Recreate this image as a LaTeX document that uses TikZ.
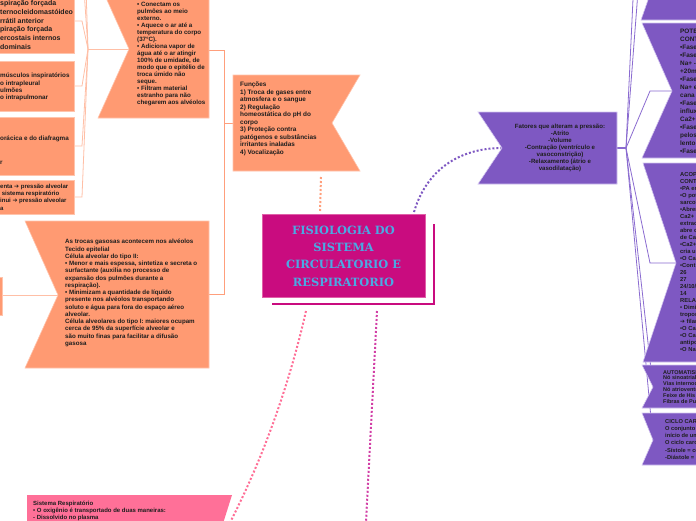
\documentclass[tikz,border=0pt]{standalone}
\usepackage{fontspec}
\setmainfont{Liberation Sans}
\newfontfamily\titlefont{DejaVu Serif}
\newfontfamily\symfont{DejaVu Sans}
\definecolor{orng}{HTML}{FF9A72}
\definecolor{obord}{HTML}{FFC4AC}
\definecolor{salm}{HTML}{FF9F7C}
\definecolor{salmlt}{HTML}{FFBFA6}
\definecolor{mag}{HTML}{C90C7F}
\definecolor{magbord}{HTML}{E060A8}
\definecolor{purp}{HTML}{7E58C2}
\definecolor{pbord}{HTML}{D2C4F0}
\definecolor{pline}{HTML}{8A6BD0}
\definecolor{pinkb}{HTML}{FF7098}
\definecolor{pinkd}{HTML}{FF6E96}
\definecolor{magd}{HTML}{D23FA6}
\definecolor{ttl}{HTML}{4AAAE4}
\definecolor{textc}{HTML}{1E1E1E}
\begin{document}
\begin{tikzpicture}[x=1pt,y=-1pt,
  txt/.style={inner sep=0pt, anchor=north west, align=left, text=textc, execute at begin node=\strut},
  ln/.style={inner sep=0pt, anchor=base west, text=textc},
  obox/.style={fill=orng, draw=obord, line width=0.6pt},
  pbox/.style={fill=purp, draw=pbord, line width=0.6pt},
  salline/.style={draw=salmlt, line width=0.8pt},
  elbline/.style={draw=salm, line width=1pt},
  purline/.style={draw=pline, line width=0.8pt},
  dotline/.style={line width=2pt, dash pattern=on 2pt off 2pt}
]
\useasboundingbox (0,0) rectangle (696,520);
\clip (0,0) rectangle (696,520);
\fill[white] (0,0) rectangle (696,520);

% ---------- coordinates ----------
\coordinate (J1) at (88,49);
\coordinate (topN) at (129,49);
\coordinate (b1R) at (74,21);  \coordinate (b1S) at (82,21);
\coordinate (b2R) at (74,86);  \coordinate (b2S) at (82,86);
\coordinate (b3R) at (74,146); \coordinate (b3S) at (82,146);
\coordinate (b4R) at (74,197); \coordinate (b4S) at (82,197);
\coordinate (up1) at (82,-40);
\coordinate (up2) at (82,-130);
\coordinate (topR) at (209,50);
\coordinate (funL) at (233,123);
\coordinate (ex) at (224,123);
\coordinate (lowR) at (209,294);
\coordinate (lowN) at (58,295);
\coordinate (slivR) at (2,295);
\coordinate (funB) at (321,177);
\coordinate (ttlT1) at (320,212);
\coordinate (ttlT2) at (414,212);
\coordinate (fatN) at (502,148);
\coordinate (fatR) at (617,148);
\coordinate (J2) at (626,148);
\coordinate (aN) at (662,-40);
\coordinate (up3) at (640,-150);
\coordinate (up4) at (645,-100);
\coordinate (bS) at (650,91);  \coordinate (bN) at (672,91);
\coordinate (cS) at (650,263); \coordinate (cN) at (676,263);
\coordinate (dN) at (653,387);
\coordinate (eN) at (653,440);
\coordinate (ttlB1) at (306,311);
\coordinate (ttlB2) at (377,311);
\coordinate (pinkN) at (214,552);
\coordinate (magEnd) at (364,560);

% ---------- connectors (behind) ----------
\draw[salline] (topN) -- (J1);
\foreach \s/\r in {b1S/b1R,b2S/b2R,b3S/b3R,b4S/b4R}{\draw[salline] (J1) -- (\s) -- (\r);}
\draw[salline] (J1) -- (up1);
\draw[salline] (J1) -- (up2);
\draw[elbline] (topR) -| (ex) -- (funL);
\draw[elbline] (lowR) -| (ex);
\draw[salline] (slivR) -- (lowN);
\draw[purline, line width=2pt] (fatR) -- (J2);
\draw[purline] (J2) -- (up3);
\draw[purline] (J2) -- (up4);
\draw[purline] (J2) -- (bS) -- (bN);
\draw[purline] (J2) -- (cS) -- (cN);
\draw[purline] (J2) -- (dN);
\draw[purline] (J2) -- (eN);

% ---------- left boxes ----------
\path[obox] (-60,-10) rectangle (74,53);
\path[obox] (-60,61) rectangle (74,111);
\path[obox] (-60,117) rectangle (74,175);
\path[obox] (-60,180) rectangle (74,214);
\node[txt, font=\fontsize{7}{8.9}\selectfont\bfseries] (t1) at (0,0)
  {spiração forçada\\ternocleidomastóideo\\rrátil anterior\\piração forçada\\ercostais internos\\dominais};
\node[txt, font=\fontsize{6.3}{7.3}\selectfont\bfseries] (t2) at (0,73.1)
  {músculos inspiratórios\\o intrapleural\\ulmões\\o intrapulmonar};
\node[ln, font=\fontsize{6.3}{7.3}\selectfont\bfseries] (t3a) at (0,140.2) {orácica e do diafragma};
\node[ln, font=\fontsize{6.3}{7.3}\selectfont\bfseries] (t3b) at (0,164.2) {r};
\node[txt, font=\fontsize{6}{7.2}\selectfont\bfseries] (t4) at (0,183.9)
  {enta {\symfont ➔} pressão alveolar\\\ sistema respiratório\\inui {\symfont ➔} pressão alveolar\\a};

% ---------- top orange box ----------
\path[obox] (98,-20) -- (209,-20) -- (209,118) -- (98,118) -- (topN) -- cycle;
\node[txt, font=\fontsize{6.2}{7.0}\selectfont\bfseries] (ttop) at (137,2.3)
  {• Conectam os\\pulmões ao meio\\externo.\\• Aquece o ar até a\\temperatura do corpo\\(37°C).\\• Adiciona vapor de\\água até o ar atingir\\100\% de umidade, de\\modo que o epitélio de\\troca úmido não\\seque.\\• Filtram material\\estranho para não\\chegarem aos alvéolos};

% ---------- Funções ----------
\path[obox] (233,75) -- (360,75) -- (332,123) -- (360,171) -- (233,171) -- cycle;
\node[txt, font=\fontsize{6.4}{7.5}\selectfont\bfseries] (tfun) at (240,82)
  {Funções\\1) Troca de gases entre\\atmosfera e o sangue\\2) Regulação\\homeostática do pH do\\corpo\\3) Proteção contra\\patógenos e substâncias\\irritantes inaladas\\4) Vocalização};

% ---------- lower orange box ----------
\path[obox] (-50,277) rectangle (2,315);
\path[obox] (25,221) -- (209,221) -- (209,368) -- (25,368) -- (lowN) -- cycle;
\node[txt, font=\fontsize{6.2}{7.25}\selectfont\bfseries] (tlow) at (65,239.1)
  {As trocas gasosas acontecem nos alvéolos\\Tecido epitelial\\Célula alveolar do tipo II:\\• Menor e mais espessa, sintetiza e secreta o\\surfactante (auxilia no processo de\\expansão dos pulmões durante a\\respiração).\\• Minimizam a quantidade de líquido\\presente nos alvéolos transportando\\soluto e água para fora do espaço aéreo\\alveolar.\\Célula alveolares do tipo I: maiores ocupam\\cerca de 95\% da superfície alveolar e\\são muito finas para facilitar a difusão\\gasosa};

% ---------- dotted links ----------
\draw[dotline, salm] (funB) -- (ttlT1);
\draw[dotline, purp] (ttlT2) .. controls (428,165) and (465,148) .. (fatN);
\draw[dotline, pinkd] (ttlB1) .. controls (288,390) and (258,475) .. (pinkN);
\draw[dotline, magd] (ttlB2) -- (magEnd);

% ---------- title ----------
\draw[mag, line width=2.5pt] (272,304) -- (434,304) -- (434,224);
\path[fill=mag, draw=magbord, line width=0.6pt] (262,214) rectangle (425,297);
\node[inner sep=0pt, align=center, text=ttl, font=\titlefont\bfseries\fontsize{11.4}{17.3}\selectfont] (title) at (343.5,256)
  {FISIOLOGIA DO\\SISTEMA\\CIRCULATORIO E\\RESPIRATORIO};

% ---------- Fatores ----------
\path[pbox] (478,112) -- (617,112) -- (617,184) -- (478,184) -- (fatN) -- cycle;
\node[inner sep=0pt, anchor=north, align=center, text=textc, execute at begin node=\strut, font=\fontsize{6.1}{7}\selectfont\bfseries] (tfat) at (560,124.3)
  {Fatores que alteram a pressão:\\-Atrito\\-Volume\\-Contração (ventrículo e\\vasoconstrição)\\-Relaxamento (átrio e\\vasodilatação)};

% ---------- right column ----------
\path[pbox] (641,20) -- (700,20) -- (700,-100) -- (641,-100) -- (aN) -- cycle;
\path[pbox] (642,23) -- (700,23) -- (700,158) -- (642,158) -- (bN) -- cycle;
\path[pbox] (643,163) -- (700,163) -- (700,362) -- (643,362) -- (cN) -- cycle;
\path[pbox] (642,365) -- (700,365) -- (700,408) -- (642,408) -- (dN) -- cycle;
\path[pbox] (642,413) -- (700,413) -- (700,465) -- (642,465) -- (eN) -- cycle;
\node[txt, font=\fontsize{6.4}{8}\selectfont\bfseries] (tB) at (680,28.6)
  {POTE\\CONT\\•Fase\\•Fase\\Na+ -\\+20m\\•Fase\\Na+ e\\cana\\•Fase\\influx\\Ca2+\\•Fase\\pelos\\lento\\•Fase};
\node[txt, font=\fontsize{5.8}{7}\selectfont\bfseries] (tC) at (680,172.3)
  {ACOP\\CONT\\•PA er\\•O pot\\sarcol\\•Abrer\\Ca2+ (\\extrac\\abre c\\de Ca\\•Ca2+\\cria u\\•O Ca\\•Cont\\26\\27\\24/10/\\14\\RELA\\• Dimi\\tropon\\{\symfont ➔} filar\\•O Ca\\•O Ca\\antipo\\•O Na};
\node[txt, font=\fontsize{5.5}{5.8}\selectfont\bfseries] (tD) at (663,370.1)
  {AUTOMATISM\\Nó sinoatrial\\Vias internod\\Nó atrioventri\\Feixe de His\\Fibras de Pu};
\node[txt, font=\fontsize{5.7}{7.2}\selectfont\bfseries] (tE) at (665,419.2)
  {CICLO CARD\\O conjunto d\\início de um\\O ciclo card\\-Sístole = co\\-Diástole = };

% ---------- pink box ----------
\path[fill=pinkb] (27,495) -- (232,495) -- (pinkN) -- (232,609) -- (27,609) -- cycle;
\node[txt, font=\fontsize{6}{7}\selectfont\bfseries] (tpink) at (33,501.3)
  {Sistema Respiratório\\• O oxigênio é transportado de duas maneiras:\\- Dissolvido no plasma};
\end{tikzpicture}
\end{document}
